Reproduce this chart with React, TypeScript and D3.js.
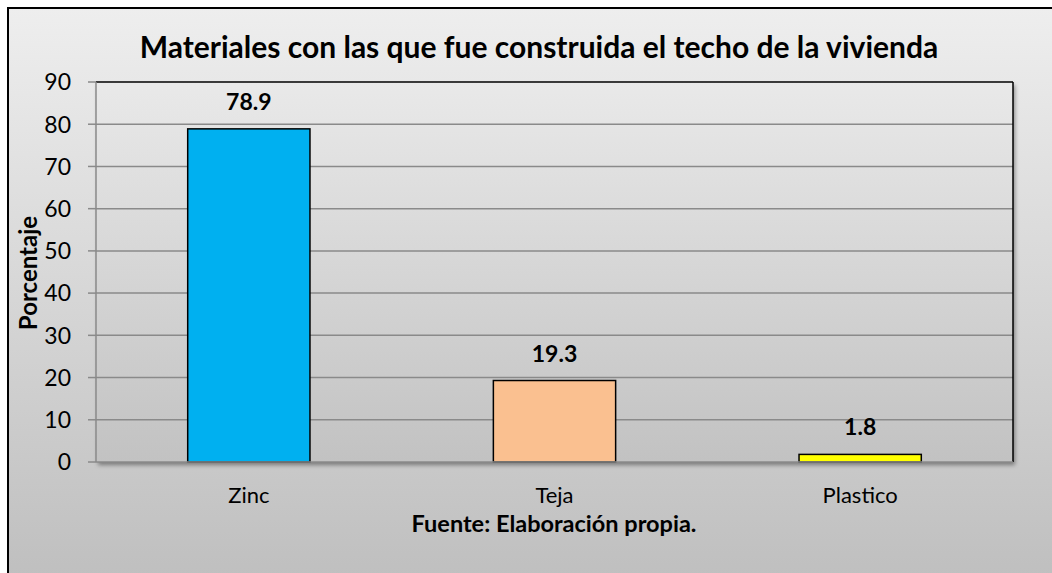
import React from "react";
import * as d3 from "d3";

const categories = ["Zinc", "Teja", "Plastico"];
const values = [78.9, 19.3, 1.8];
const barColors = ["#00B0F0", "#FAC090", "#FFFF00"];
const yTicks = [0, 10, 20, 30, 40, 50, 60, 70, 80, 90];
const titleText = "Materiales con las que fue construida el techo de la vivienda";
const yLabel = "Porcentaje";
const sourceText = "Fuente: Elaboración propia.";

const W = 1052;
const H = 573;
const FONT = "Lato, 'Open Sans', sans-serif";

export default function App() {
  const plot = { left: 96, right: 1013, top: 82, bottom: 462 };
  const y = d3.scaleLinear().domain([0, 90]).range([plot.bottom, plot.top]);
  const x = d3
    .scaleBand<string>()
    .domain(categories)
    .range([plot.left, plot.right])
    .paddingInner(0.6)
    .paddingOuter(0.3);

  return (
    <svg
      width={W}
      height={H}
      style={{ position: "absolute", left: 0, top: 0, display: "block" }}
      fontFamily={FONT}
    >
      <defs>
        <linearGradient id="bgGrad" x1="0" y1="0" x2="0" y2="1">
          <stop offset="0" stopColor="#eeeeee" />
          <stop offset="1" stopColor="#bebebe" />
        </linearGradient>
        <linearGradient id="plotGrad" x1="0" y1="0" x2="0" y2="1">
          <stop offset="0" stopColor="#e9e9e9" />
          <stop offset="1" stopColor="#c2c2c2" />
        </linearGradient>
        <filter id="shadow" x="-5%" y="-5%" width="110%" height="115%">
          <feDropShadow dx="2" dy="3" stdDeviation="2" floodColor="#000" floodOpacity="0.4" />
        </filter>
      </defs>
      <rect x={0} y={0} width={W} height={H} fill="#ffffff" />
      <rect x={8} y={8} width={W + 10} height={H + 10} fill="url(#bgGrad)" stroke="#000" strokeWidth={2} />

      <text x={539} y={58} textAnchor="middle" fontSize={30} fontWeight="bold" fill="#000">
        {titleText}
      </text>

      <rect
        x={plot.left}
        y={plot.top}
        width={plot.right - plot.left}
        height={plot.bottom - plot.top}
        fill="url(#plotGrad)"
        filter="url(#shadow)"
      />

      {yTicks.map((t) => (
        <g key={t}>
          {t > 0 && t < 90 && (
            <line x1={plot.left} x2={plot.right} y1={y(t)} y2={y(t)} stroke="#8a8a8a" strokeWidth={1.5} />
          )}
          <line x1={plot.left - 8} x2={plot.left} y1={y(t)} y2={y(t)} stroke="#8a8a8a" strokeWidth={1.5} />
          <text x={71} y={y(t)} dy="0.36em" textAnchor="end" fontSize={23} fill="#000">
            {t}
          </text>
        </g>
      ))}

      <line x1={plot.left} x2={plot.right} y1={plot.top} y2={plot.top} stroke="#000" strokeWidth={1.5} />
      <line x1={plot.right} x2={plot.right} y1={plot.top} y2={plot.bottom} stroke="#000" strokeWidth={1.5} />

      {categories.map((c, i) => (
        <g key={c}>
          <rect
            x={x(c)!}
            y={y(values[i])}
            width={x.bandwidth()}
            height={plot.bottom - y(values[i])}
            fill={barColors[i]}
            stroke="#000"
            strokeWidth={1.5}
          />
          <text
            x={x(c)! + x.bandwidth() / 2}
            y={y(values[i]) - 19}
            textAnchor="middle"
            fontSize={23}
            fontWeight="bold"
            fill="#000"
          >
            {values[i].toFixed(1)}
          </text>
          <text x={x(c)! + x.bandwidth() / 2} y={503} textAnchor="middle" fontSize={22} fill="#000">
            {c}
          </text>
        </g>
      ))}

      <line x1={plot.left} x2={plot.left} y1={plot.top} y2={plot.bottom} stroke="#8a8a8a" strokeWidth={1.5} />
      <line x1={plot.left} x2={plot.right} y1={plot.bottom} y2={plot.bottom} stroke="#8a8a8a" strokeWidth={1.5} />

      <text
        transform={`translate(37, 273) rotate(-90)`}
        textAnchor="middle"
        fontSize={24}
        fontWeight="bold"
        fill="#000"
      >
        {yLabel}
      </text>

      <text x={554} y={532} textAnchor="middle" fontSize={23.5} fontWeight="bold" fill="#000">
        {sourceText}
      </text>
    </svg>
  );
}
